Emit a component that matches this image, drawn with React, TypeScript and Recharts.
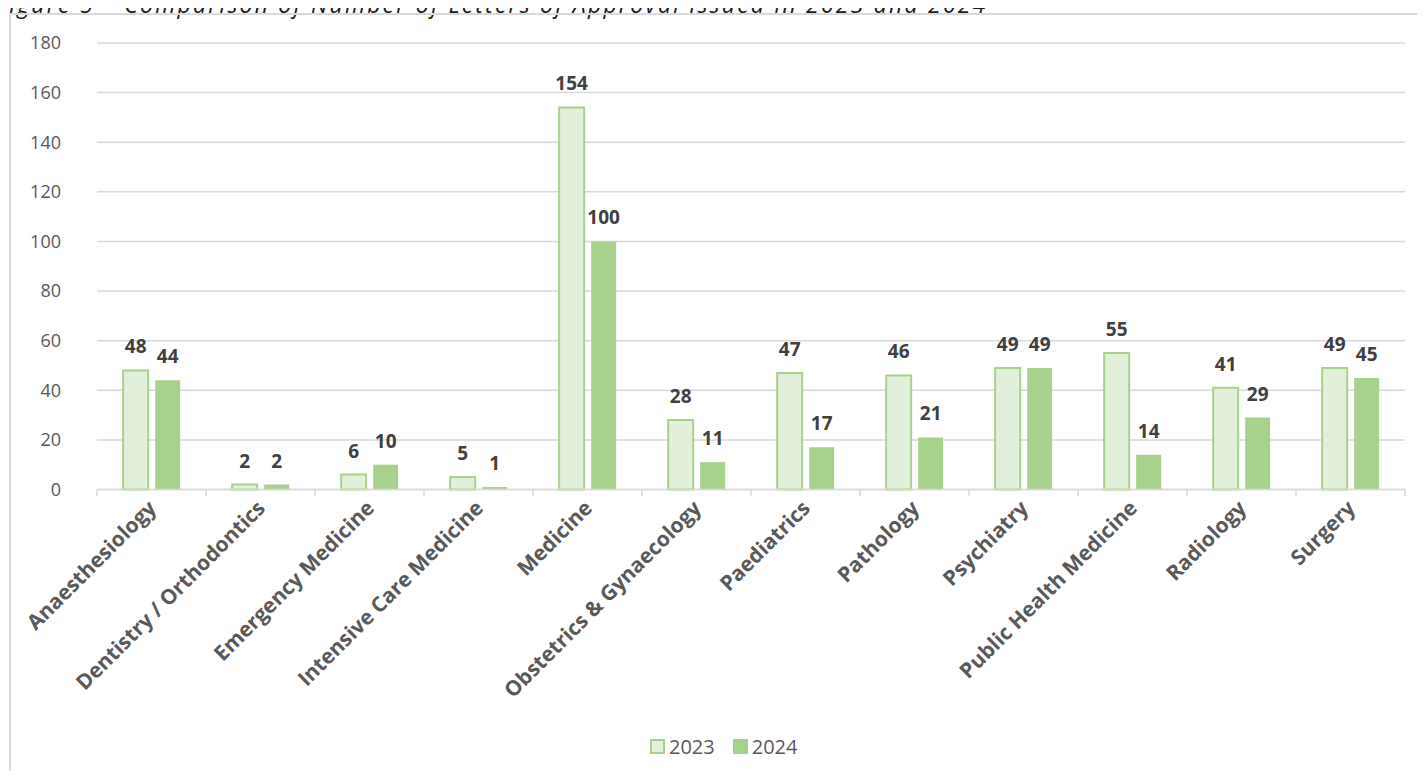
import React from 'react';
import { BarChart, Bar, XAxis, YAxis, CartesianGrid, Legend, LabelList } from 'recharts';

const specialties = [
  'Anaesthesiology',
  'Dentistry / Orthodontics',
  'Emergency Medicine',
  'Intensive Care Medicine',
  'Medicine',
  'Obstetrics & Gynaecology',
  'Paediatrics',
  'Pathology',
  'Psychiatry',
  'Public Health Medicine',
  'Radiology',
  'Surgery',
];
const letters2023 = [48, 2, 6, 5, 154, 28, 47, 46, 49, 55, 41, 49];
const letters2024 = [44, 2, 10, 1, 100, 11, 17, 21, 49, 14, 29, 45];
const yTicks = [0, 20, 40, 60, 80, 100, 120, 140, 160, 180];

const data = specialties.map((name, i) => ({ name, y2023: letters2023[i], y2024: letters2024[i] }));

const FONT = '"Open Sans", sans-serif';
const GRID = '#D9D9D9';
const LIGHT = '#E2EFDA';
const GREEN = '#A9D18E';
const BAND = (1405 - 97) / specialties.length;

function CategoryTick(props: any) {
  const { x, y, payload, index } = props;
  const last = index === specialties.length - 1;
  return (
    <g>
      <line x1={x - BAND / 2} y1={y} x2={x - BAND / 2} y2={y + 7} stroke={GRID} strokeWidth={1.5} />
      {last && <line x1={x + BAND / 2} y1={y} x2={x + BAND / 2} y2={y + 7} stroke={GRID} strokeWidth={1.5} />}
      <text
        transform={`translate(${x + 6},${y + 20}) rotate(-45)`}
        textAnchor="end"
        fill="#595959"
        fontFamily={FONT}
        fontWeight={700}
        fontSize={21}
      >
        {payload.value}
      </text>
    </g>
  );
}

function LegendBox() {
  const item = (label: string, fill: string) => (
    <span style={{ display: 'inline-flex', alignItems: 'center', marginRight: 18 }}>
      <span style={{ width: 11, height: 11, background: fill, border: `2px solid ${GREEN}`, marginRight: 4 }} />
      <span>{label}</span>
    </span>
  );
  return (
    <div style={{ fontFamily: FONT, fontSize: 20, color: '#595959', paddingLeft: 650, lineHeight: '28px' }}>
      {item('2023', LIGHT)}
      {item('2024', GREEN)}
    </div>
  );
}

export default function App() {
  return (
    <div style={{ position: 'relative', width: 1425, height: 779, margin: -8, overflow: 'hidden', background: '#fff' }}>
      <div
        style={{
          position: 'absolute',
          left: -4,
          top: -11,
          fontFamily: FONT,
          fontStyle: 'italic',
          fontSize: 23,
          letterSpacing: 2.2,
          color: '#1a1a1a',
          whiteSpace: 'nowrap',
          lineHeight: '30px',
        }}
      >
        Figure 5 – Comparison of Number of Letters of Approval issued in 2023 and 2024
      </div>
      <div
        style={{
          position: 'absolute',
          left: 9,
          top: 13,
          width: 1440,
          height: 800,
          border: `2px solid ${GRID}`,
        }}
      />
      <div style={{ position: 'absolute', left: 0, top: 0 }}>
        <BarChart
          width={1425}
          height={779}
          data={data}
          margin={{ top: 43, right: 20, left: 37, bottom: 18 }}
          barCategoryGap="24%"
          barGap={7}
        >
          <CartesianGrid vertical={false} stroke={GRID} strokeWidth={1.5} />
          <XAxis
            dataKey="name"
            interval={0}
            height={243}
            tickLine={false}
            tickSize={0}
            tickMargin={0}
            axisLine={{ stroke: GRID, strokeWidth: 1.5 }}
            tick={<CategoryTick />}
          />
          <YAxis
            domain={[0, 180]}
            ticks={yTicks}
            width={60}
            axisLine={false}
            tickLine={false}
            tickSize={0}
            tickMargin={36}
            tick={{ fill: '#595959', fontSize: 18, fontFamily: FONT }}
          />
          <Legend verticalAlign="bottom" content={<LegendBox />} wrapperStyle={{ left: 0, width: 1425 }} />
          <Bar dataKey="y2023" name="2023" fill={LIGHT} stroke={GREEN} strokeWidth={2} isAnimationActive={false}>
            <LabelList dataKey="y2023" position="top" offset={17} fill="#404040" fontFamily={FONT} fontWeight={700} fontSize={19} />
          </Bar>
          <Bar dataKey="y2024" name="2024" fill={GREEN} isAnimationActive={false}>
            <LabelList dataKey="y2024" position="top" offset={17} fill="#404040" fontFamily={FONT} fontWeight={700} fontSize={19} />
          </Bar>
        </BarChart>
      </div>
    </div>
  );
}
